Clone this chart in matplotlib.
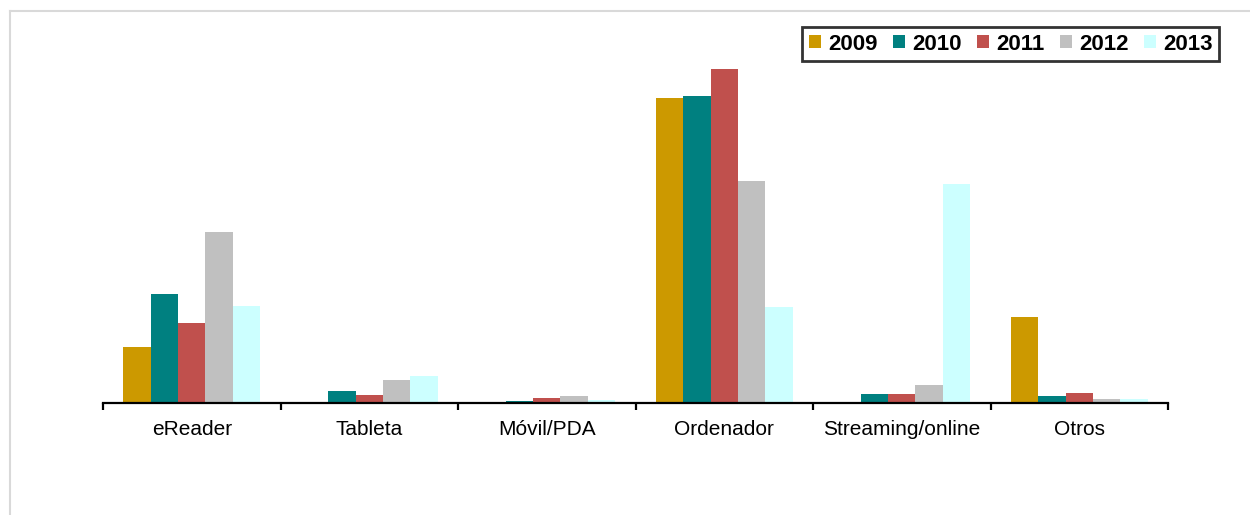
import matplotlib
matplotlib.use("Agg")
import matplotlib.pyplot as plt
import numpy as np
from matplotlib.lines import Line2D

categories = ["eReader", "Tableta", "Móvil/PDA", "Ordenador", "Streaming/online", "Otros"]
years = ["2009", "2010", "2011", "2012", "2013"]
v2009 = [56, 0, 1.3, 305, 0, 86]
v2010 = [109, 12, 2.3, 307, 9.5, 6.7]
v2011 = [80, 8, 5, 334, 9.5, 10.3]
v2012 = [171, 23, 7, 222, 18.5, 4.3]
v2013 = [97, 27, 3, 96, 219, 4.3]
series = [v2009, v2010, v2011, v2012, v2013]
colors = ["#CC9900", "#008080", "#C0504D", "#C0C0C0", "#CCFFFF"]

plt.rcParams['font.family'] = ['Liberation Sans', 'DejaVu Sans']

W, H = 1250, 515
fig = plt.figure(figsize=(W / 100, H / 100), dpi=100)
ax_left, ax_right = 103 / W, 1168 / W
ax_bottom, ax_top = 1 - 403 / H, 1 - 20 / H
ax = fig.add_axes([ax_left, ax_bottom, ax_right - ax_left, ax_top - ax_bottom])

n = len(categories)
x = np.arange(n)
bw = 0.1545
for i, (vals, c) in enumerate(zip(series, colors)):
    ax.bar(x + (i - 2) * bw, vals, width=bw, color=c, label=years[i], linewidth=0)

ax.set_xlim(-0.5, n - 0.5)
ax.set_ylim(0, 383)
ax.set_yticks([])
for s in ["top", "right", "left"]:
    ax.spines[s].set_visible(False)
ax.spines["bottom"].set_linewidth(1.6)
ax.spines["bottom"].set_color("black")

ax.set_xticks(np.arange(-0.5, n, 1.0))
ax.set_xticklabels([])
ax.tick_params(axis="x", which="major", length=5, width=1.6, color="black", direction="out")
ax.set_xticks(x, minor=True)
ax.set_xticklabels(categories, minor=True, fontsize=15)
ax.tick_params(axis="x", which="minor", length=0, pad=12)

leg = ax.legend(loc="upper right", bbox_to_anchor=(1219 / W, 1 - 27 / H),
                bbox_transform=fig.transFigure, ncol=5, frameon=True, fancybox=False,
                borderaxespad=0, prop={"weight": "bold", "size": 16},
                handlelength=0.55, handleheight=0.55, handletextpad=0.32,
                columnspacing=0.68, borderpad=0.3)
leg.get_frame().set_edgecolor("black")
leg.get_frame().set_linewidth(2)

# outer frame (left and top only)
fig.add_artist(Line2D([9.5 / W, 9.5 / W], [0, 1 - 10.5 / H], transform=fig.transFigure,
                      color="#D9D9D9", linewidth=1.5))
fig.add_artist(Line2D([9.5 / W, 1], [1 - 10.5 / H, 1 - 10.5 / H], transform=fig.transFigure,
                      color="#D9D9D9", linewidth=1.5))

fig.savefig("out.png", dpi=100)
